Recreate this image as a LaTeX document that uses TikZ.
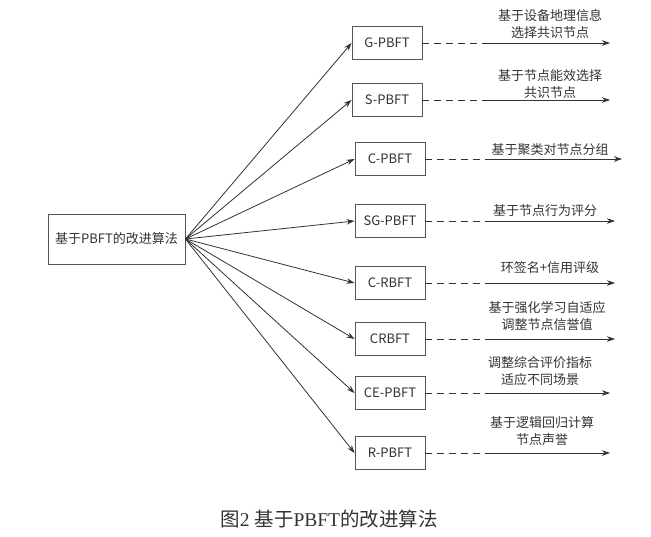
\documentclass[tikz,border=0pt]{standalone}
\usepackage{fontspec}
\setmainfont{Liberation Serif}
\newfontfamily\cjk{Noto Sans CJK SC}
\usetikzlibrary{arrows.meta}
\definecolor{ln}{HTML}{333333}
\definecolor{bx}{HTML}{555555}
\definecolor{tx}{HTML}{333333}
\begin{document}
\begin{tikzpicture}[x=1pt,y=-1pt,
  algbox/.style={draw=bx,line width=0.9pt,minimum width=70pt,minimum height=33pt,inner sep=0pt,font=\cjk\fontsize{13}{16}\selectfont,text=tx},
  rootbox/.style={draw=bx,line width=0.9pt,minimum width=137pt,minimum height=50pt,inner sep=0pt,font=\cjk\fontsize{13}{16}\selectfont,text=tx},
  lbl/.style={align=center,font=\cjk\fontsize{13}{16.5}\selectfont,text=tx,inner sep=0pt},
  conn/.style={draw=ln,line width=0.8pt,-{Stealth[length=8pt,width=5.5pt]}},
  dashln/.style={draw=ln,line width=0.8pt,dash pattern=on 7pt off 5pt},
  solidarr/.style={draw=ln,line width=0.8pt,-{Stealth[length=8pt,width=5.5pt]}}
]
\useasboundingbox[fill=white] (0,0) rectangle (651,536);

\node[rootbox] (root) at (116.5,239) {基于PBFT的改进算法};

\node[algbox] (g)  at (387,43)  {G-PBFT};
\node[algbox] (s)  at (387,100) {S-PBFT};
\node[algbox] (c)  at (390,159) {C-PBFT};
\node[algbox] (sg) at (390,221) {SG-PBFT};
\node[algbox] (cr) at (390,283) {C-RBFT};
\node[algbox] (crb) at (390,339) {CRBFT};
\node[algbox] (ce) at (390,393) {CE-PBFT};
\node[algbox] (r)  at (390,453) {R-PBFT};

\foreach \n in {g,s,c,sg,cr,crb,ce,r}{
  \draw[conn] (root.east) -- (\n.west);
}

% dashed + solid arrows
\coordinate (gm) at (485,43);  \coordinate (ge) at (610,43);
\coordinate (sm) at (485,100); \coordinate (se) at (610,100);
\coordinate (cm) at (487,159); \coordinate (ce2) at (622,159);
\coordinate (sgm) at (487,221); \coordinate (sge) at (615,221);
\coordinate (crm) at (487,283); \coordinate (cre) at (615,283);
\coordinate (crbm) at (487,339); \coordinate (crbe) at (615,339);
\coordinate (cem) at (487,393); \coordinate (cee) at (610,393);
\coordinate (rm) at (487,453); \coordinate (re) at (610,453);

\draw[dashln] (g.east) -- (gm);   \draw[solidarr] (gm) -- (ge);
\draw[dashln] (s.east) -- (sm);   \draw[solidarr] (sm) -- (se);
\draw[dashln] (c.east) -- (cm);   \draw[solidarr] (cm) -- (ce2);
\draw[dashln] (sg.east) -- (sgm); \draw[solidarr] (sgm) -- (sge);
\draw[dashln] (cr.east) -- (crm); \draw[solidarr] (crm) -- (cre);
\draw[dashln] (crb.east) -- (crbm); \draw[solidarr] (crbm) -- (crbe);
\draw[dashln] (ce.east) -- (cem); \draw[solidarr] (cem) -- (cee);
\draw[dashln] (r.east) -- (rm);   \draw[solidarr] (rm) -- (re);

\node[lbl] (lg)  at (550,24)  {基于设备地理信息\\选择共识节点};
\node[lbl] (ls)  at (550,84)  {基于节点能效选择\\共识节点};
\node[lbl] (lc)  at (550,150) {基于聚类对节点分组};
\node[lbl] (lsg) at (545,211) {基于节点行为评分};
\node[lbl] (lcr) at (550,268) {环签名+信用评级};
\node[lbl] (lcrb) at (547,316) {基于强化学习自适应\\调整节点信誉值};
\node[lbl] (lce) at (540,371) {调整综合评价指标\\适应不同场景};
\node[lbl] (lr)  at (542,431) {基于逻辑回归计算\\节点声誉};

\node[font=\fontsize{19.5}{21}\selectfont,text=tx,inner sep=0pt] (cap) at (329,519) {{\cjk 图}2 {\cjk 基于}PBFT{\cjk 的改进算法}};
\end{tikzpicture}
\end{document}
